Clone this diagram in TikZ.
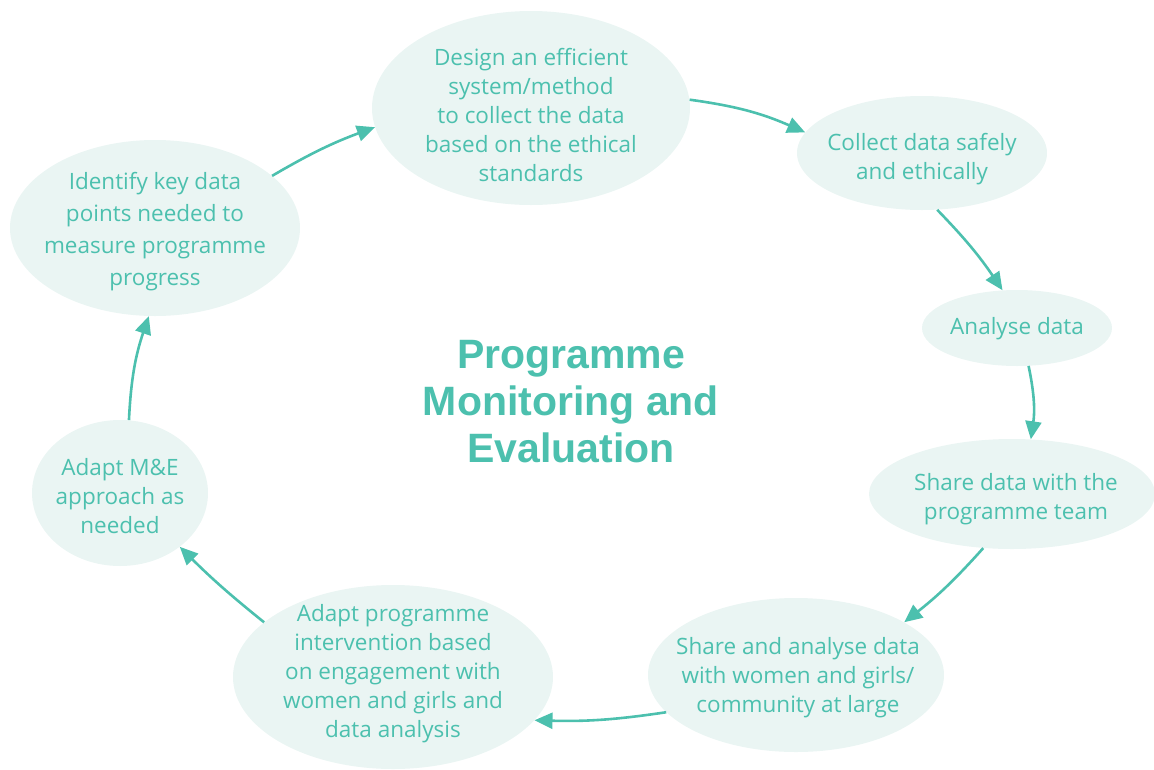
\documentclass[tikz,border=0pt]{standalone}
\usepackage{fontspec}
\setmainfont{Open Sans}
\newfontfamily\titlefont{Liberation Sans}
\usetikzlibrary{shapes.geometric,arrows.meta}
\definecolor{teal}{HTML}{4CC0AE}
\definecolor{mint}{HTML}{EAF5F3}
\tikzset{
  bub/.style={ellipse, fill=mint, draw=none, inner sep=0pt},
  txt/.style={align=center, text=teal, font=\fontsize{22.5}{29}\selectfont, inner sep=0pt},
  flow/.style={draw=teal, line width=2.6pt, -{Triangle[length=18pt,width=16pt]}},
}
\begin{document}
\begin{tikzpicture}[x=1pt,y=-1pt]
\useasboundingbox (0,0) rectangle (1154,769);
% ellipses
\node[bub, minimum width=318pt, minimum height=194pt] (n1) at (531,108) {};
\node[bub, minimum width=250pt, minimum height=114pt] (n2) at (922,153) {};
\node[bub, minimum width=190pt, minimum height=76pt] (n3) at (1017,328) {};
\node[bub, minimum width=286pt, minimum height=110pt] (n4) at (1012,494) {};
\node[bub, minimum width=296pt, minimum height=154pt] (n5) at (796,675) {};
\node[bub, minimum width=320pt, minimum height=184pt] (n6) at (393,677) {};
\node[bub, minimum width=176pt, minimum height=146pt] (n7) at (120,493) {};
\node[bub, minimum width=290pt, minimum height=176pt] (n8) at (155,228) {};
% texts
\node[txt] (t1) at (531,115) {Design an efficient\\system/method\\to collect the data\\based on the ethical\\standards};
\node[txt] (t2) at (922,159) {Collect data safely\\and ethically};
\node[txt] (t3) at (1017,329) {Analyse data};
\node[txt] (t4) at (1016,499) {Share data with the\\programme team};
\node[txt] (t5) at (798,678) {Share and analyse data\\with women and girls/\\community at large};
\node[txt] (t6) at (393,674) {Adapt programme\\intervention based\\on engagement with\\women and girls and\\data analysis};
\node[txt] (t7) at (120,496) {Adapt M\&E\\approach as\\needed};
\node[txt, font=\fontsize{22.5}{32}\selectfont] (t8) at (155,232) {Identify key data\\points needed to\\measure programme\\progress};
\node[align=center, text=teal, font=\titlefont\bfseries\fontsize{41}{47}\selectfont, inner sep=0pt] (title) at (571,402) {Programme\\Monitoring and\\Evaluation};
% arrows
\draw[flow] (n8.24) to[bend left=5] (n1.187);
\draw[flow] (n1.3) to[bend left=8] (n2.170);
\draw[flow] (n2.-75) to[bend left=5] (n3.111);
\draw[flow] (n3.-73) to[bend left=10] (n4.71);
\draw[flow] (n4.-118) to[bend left=5] (n5.26);
\draw[flow] (n5.-164) to[bend left=5] (n6.-17);
\draw[flow] (n6.157) to[bend left=3] (n7.-42);
\draw[flow] (n7.83) to[bend left=8] (n8.-94);
\end{tikzpicture}
\end{document}
